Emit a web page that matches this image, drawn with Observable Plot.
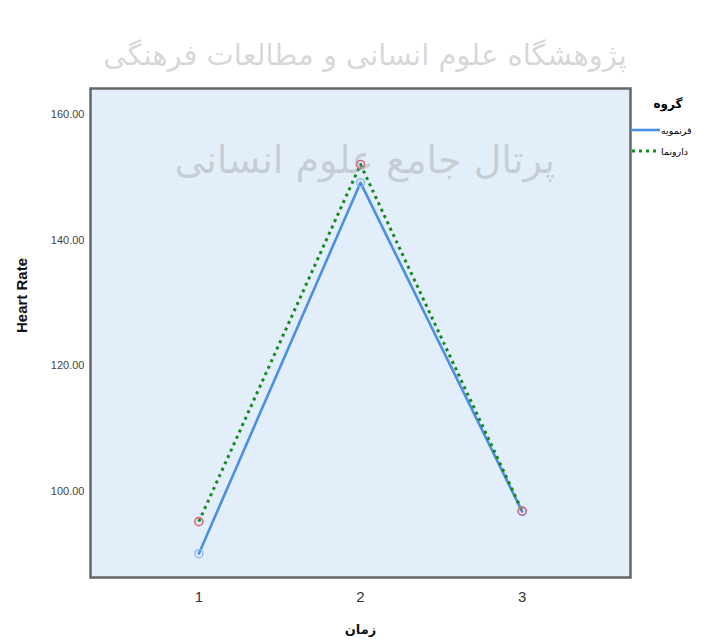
<!DOCTYPE html>
<html>
<head>
<meta charset="utf-8">
<script src="https://cdn.jsdelivr.net/npm/d3@7"></script>
<script src="https://cdn.jsdelivr.net/npm/@observablehq/plot@0.6"></script>
<style>
  body { margin: 0; background: #fff; }
  #wrap { position: relative; width: 706px; height: 640px; overflow: hidden; font-family: "Liberation Sans", Arial, sans-serif; }
  .wm { position: absolute; font-family: "DejaVu Sans", sans-serif; color: rgba(150,150,150,0.38); white-space: nowrap; direction: rtl; pointer-events: none; }
  #legend { position: absolute; left: 630px; top: 92px; width: 76px; font-family: "DejaVu Sans", sans-serif; }
</style>
</head>
<body>
<div id="wrap"></div>
<script>
// ---- data ----
const times = [1, 2, 3];
const groups = ["قرنمویه", "دارونما"];
const seriesA = [90.1, 149.2, 96.8];   // blue, solid
const seriesB = [95.2, 152.1, 96.9];   // green, dotted
const yTicks = [100, 120, 140, 160];
const xTicks = [1, 2, 3];
const yLabel = "Heart Rate";
const xLabel = "زمان";
const legendTitle = "گروه";
const watermark1 = "پژوهشگاه علوم انسانی و مطالعات فرهنگی";
const watermark2 = "پرتال جامع علوم انسانی";

const dataA = times.map((t, i) => ({time: t, hr: seriesA[i], group: groups[0]}));
const dataB = times.map((t, i) => ({time: t, hr: seriesB[i], group: groups[1]}));

const blue = "#4a8fe4";
const green = "#15891c";

const chart = Plot.plot({
  width: 706,
  height: 640,
  marginLeft: 90,
  marginRight: 76,
  marginTop: 88,
  marginBottom: 63,
  style: {fontFamily: "Liberation Sans, Arial, sans-serif", background: "transparent"},
  x: {domain: [0.33, 3.67], ticks: xTicks, tickFormat: d => String(d), tickSize: 0, label: null},
  y: {domain: [86.3, 164.2], ticks: yTicks, tickFormat: d3.format(".2f"), tickSize: 0, label: null},
  marks: [
    Plot.frame({fill: "#e3eefb"}),
    Plot.axisY({ticks: yTicks, tickFormat: d3.format(".2f"), tickSize: 0, tickPadding: 6, fontSize: 11, color: "#444", label: null}),
    Plot.axisX({ticks: xTicks, tickFormat: d => String(d), tickSize: 0, tickPadding: 14, fontSize: 15, color: "#333", label: null}),
    Plot.line(dataA, {x: "time", y: "hr", stroke: blue, strokeWidth: 2.6}),
    Plot.line(dataB, {x: "time", y: "hr", stroke: green, strokeWidth: 3, strokeDasharray: "3 4", strokeLinecap: "butt"}),
    Plot.dot(dataA, {x: "time", y: "hr", r: 4, stroke: "#8dbaf0", strokeWidth: 1.5, fill: "none"}),
    Plot.dot(dataB, {x: "time", y: "hr", r: 4, stroke: "#d9657c", strokeWidth: 1.6, fill: "none"}),
    Plot.frame({stroke: "#666", strokeWidth: 2.5}),
    Plot.text([yLabel], {frameAnchor: "left", dx: -68, rotate: -90, fontSize: 15, fontWeight: "bold", fill: "#111"}),
    Plot.text([xLabel], {frameAnchor: "bottom", dy: 56, fontSize: 13, fontWeight: "bold", fill: "#111", fontFamily: "DejaVu Sans"})
  ]
});

const wrap = document.getElementById("wrap");
chart.style.position = "absolute";
chart.style.left = "0px";
chart.style.top = "0px";
wrap.appendChild(chart);

// watermarks
const w1 = document.createElement("div");
w1.className = "wm";
w1.textContent = watermark1;
w1.style.left = "95px"; w1.style.top = "38px"; w1.style.fontSize = "29px";
w1.style.width = "540px"; w1.style.textAlign = "center";
wrap.appendChild(w1);
const w2 = document.createElement("div");
w2.className = "wm";
w2.textContent = watermark2;
w2.style.left = "195px"; w2.style.top = "138px"; w2.style.fontSize = "38px";
w2.style.width = "360px"; w2.style.textAlign = "center";
wrap.appendChild(w2);

// legend
const lg = document.createElement("div");
lg.id = "legend";
const svgNS = "http://www.w3.org/2000/svg";
const ls = document.createElementNS(svgNS, "svg");
ls.setAttribute("width", 76); ls.setAttribute("height", 70);
const title = document.createElementNS(svgNS, "text");
title.setAttribute("x", 38); title.setAttribute("y", 16);
title.setAttribute("text-anchor", "middle");
title.setAttribute("font-size", 12); title.setAttribute("font-weight", "bold");
title.setAttribute("font-family", "DejaVu Sans");
title.textContent = legendTitle;
ls.appendChild(title);
[[groups[0], blue, null, 2.6], [groups[1], green, "3 4", 3]].forEach(([g, c, dash, w], i) => {
  const y = 38 + i * 21;
  const l = document.createElementNS(svgNS, "line");
  l.setAttribute("x1", 2); l.setAttribute("x2", 30);
  l.setAttribute("y1", y); l.setAttribute("y2", y);
  l.setAttribute("stroke", c); l.setAttribute("stroke-width", w);
  if (dash) l.setAttribute("stroke-dasharray", dash);
  ls.appendChild(l);
  const t = document.createElementNS(svgNS, "text");
  t.setAttribute("x", 31); t.setAttribute("y", y + 3.5);
  t.setAttribute("font-size", 9.5);
  t.setAttribute("font-family", "DejaVu Sans");
  t.setAttribute("direction", "rtl");
  t.setAttribute("text-anchor", "end");
  t.textContent = g;
  ls.appendChild(t);
});
lg.appendChild(ls);
wrap.appendChild(lg);
</script>
</body>
</html>
